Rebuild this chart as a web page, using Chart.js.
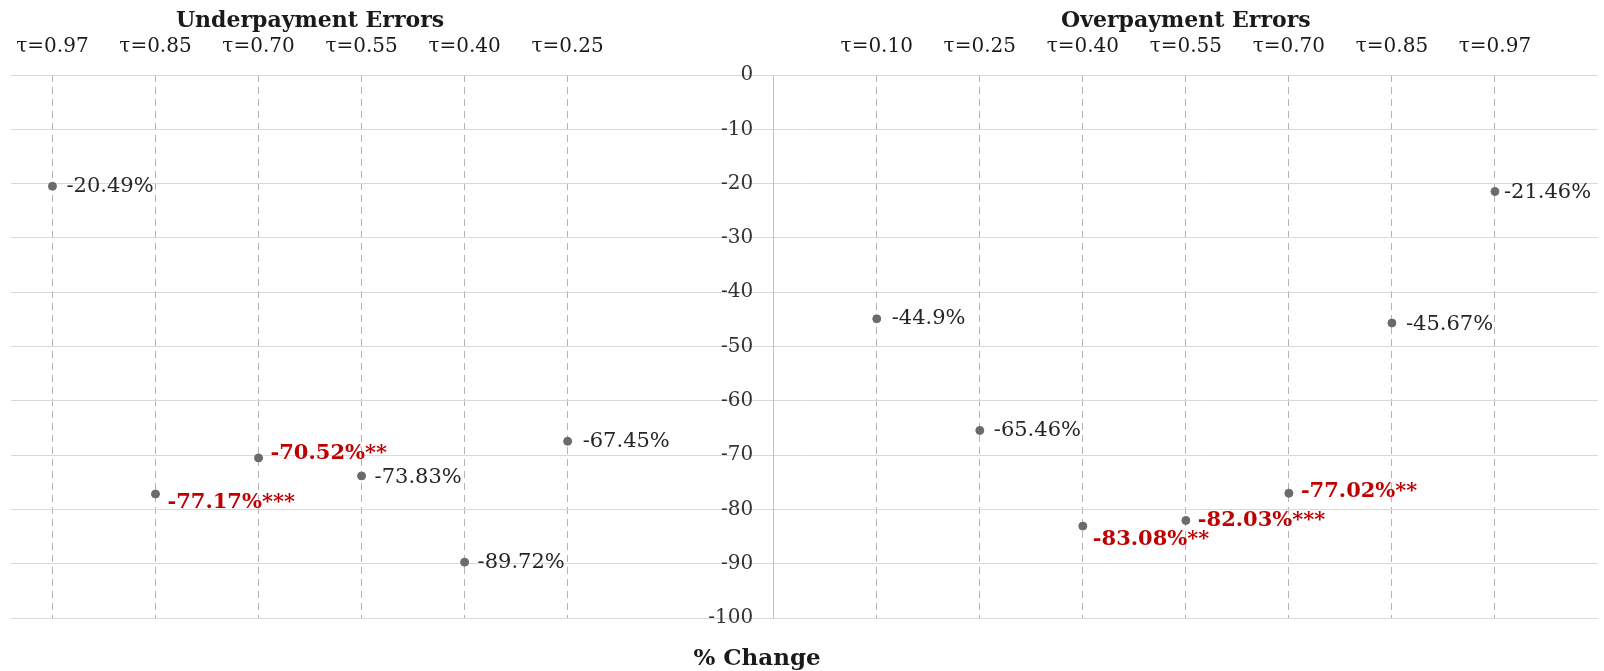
<!DOCTYPE html>
<html lang="en">
<head>
<meta charset="UTF-8">
<title>% Change by quantile</title>
<script src="https://cdn.jsdelivr.net/npm/chart.js@4"></script>
<style>
  body { margin: 0; background: #fff; }
  .wrap { width: 1604px; height: 671px; position: relative; }
</style>
</head>
<body>
<div class="wrap">
  <canvas id="grafico"></canvas>
</div>

<script>
  // quantiles for each side, left block then right block
  const underTau = ['τ=0.97', 'τ=0.85', 'τ=0.70', 'τ=0.55', 'τ=0.40', 'τ=0.25'];
  const overTau = ['τ=0.10', 'τ=0.25', 'τ=0.40', 'τ=0.55', 'τ=0.70', 'τ=0.85', 'τ=0.97'];

  // % change per quantile
  const underChange = [-20.49, -77.17, -70.52, -73.83, -89.72, -67.45];
  const overChange = [-44.9, -65.46, -83.08, -82.03, -77.02, -45.67, -21.46];

  // significance stars
  const underStars = ['', '***', '**', '', '', ''];
  const overStars = ['', '', '**', '***', '**', '', ''];

  // y axis
  const yMin = -100;
  const yMax = 0;
  const yStep = 10;

  // slot 6 is empty, slot 7 holds the y axis
  const axisSlot = underTau.length + 1;
  const overStart = underTau.length + 2;
  const topLabels = [...underTau, '', '', ...overTau];

  const serif = '"DejaVu Serif", serif';
  Chart.defaults.font.family = serif;
  Chart.defaults.color = '#262626';

  // small label nudges so the texts do not overlap
  const labelNudge = [
    [[14, 0], [12, 9], [12, -4], [13, 2], [13, 0], [15, 0]],
    [[15, 0], [14, 0], [10, 13], [12, 0], [12, -2], [14, 2], [9, 1]]
  ];

  const rotulos = {
    id: 'rotulos',
    afterDatasetsDraw(chart) {
      const { ctx, scales: { x } } = chart;
      ctx.save();
      ctx.textBaseline = 'middle';
      ctx.textAlign = 'left';
      chart.data.datasets.forEach((ds, di) => {
        const meta = chart.getDatasetMeta(di);
        meta.data.forEach((pt, i) => {
          const stars = ds.stars[i];
          const sig = stars !== '';
          const [dx, dy] = labelNudge[di][i];
          ctx.font = (sig ? 'bold ' : '') + '21px ' + serif;
          ctx.fillStyle = sig ? '#c00000' : '#262626';
          ctx.fillText(ds.data[i].y + '%' + stars, pt.x + dx, pt.y + dy);
        });
      });

      // block titles above the quantile labels
      ctx.font = 'bold 22px ' + serif;
      ctx.fillStyle = '#1a1a1a';
      ctx.textAlign = 'center';
      ctx.fillText('Underpayment Errors', x.getPixelForValue((underTau.length - 1) / 2), 21);
      ctx.fillText('Overpayment Errors', x.getPixelForValue(overStart + (overTau.length - 1) / 2), 21);

      ctx.font = 'bold 23px ' + serif;
      ctx.fillText('% Change', 757, 659);
      ctx.restore();
    }
  };

  const ctx = document.getElementById('grafico');

  new Chart(ctx, {
    type: 'scatter',
    data: {
      datasets: [
        {
          label: 'Underpayment Errors',
          data: underChange.map((v, i) => ({ x: i, y: v })),
          stars: underStars
        },
        {
          label: 'Overpayment Errors',
          data: overChange.map((v, i) => ({ x: overStart + i, y: v })),
          stars: overStars
        }
      ]
    },
    options: {
      responsive: true,
      maintainAspectRatio: false,
      animation: false,
      layout: {
        padding: { top: 19, bottom: 53, left: 11, right: 6 }
      },
      elements: {
        point: {
          radius: 4,
          backgroundColor: '#6b6b6b',
          borderColor: '#6b6b6b',
          borderWidth: 1
        }
      },
      plugins: {
        legend: { display: false },
        tooltip: { enabled: false }
      },
      scales: {
        x: {
          type: 'linear',
          position: 'top',
          min: -0.4,
          max: 15,
          afterBuildTicks: (axis) => {
            axis.ticks = topLabels.map((_, i) => ({ value: i }));
          },
          ticks: {
            autoSkip: false,
            maxRotation: 0,
            padding: 16,
            color: '#1a1a1a',
            font: { size: 20 },
            callback: (v) => topLabels[v] || ''
          },
          grid: {
            drawTicks: false,
            lineWidth: 1,
            borderDash: [7, 5],
            color: (c) => (c.tick && topLabels[c.tick.value]) ? '#b3b3b3' : 'rgba(0,0,0,0)'
          },
          border: { display: false, dash: [7, 5] }
        },
        // axis line and horizontal grid
        y: {
          type: 'linear',
          position: { x: axisSlot },
          min: yMin,
          max: yMax,
          ticks: { stepSize: yStep, display: false },
          grid: {
            drawTicks: false,
            color: '#d9d9d9',
            lineWidth: 1
          },
          border: { color: '#b8c4d6', width: 1 }
        },
        // tick labels sit a little left of the axis line
        yLabels: {
          type: 'linear',
          axis: 'y',
          position: { x: axisSlot - 0.2 },
          min: yMin,
          max: yMax,
          ticks: {
            stepSize: yStep,
            color: '#333',
            font: { size: 20 }
          },
          grid: { display: false, drawTicks: false },
          border: { display: false }
        }
      }
    },
    plugins: [rotulos]
  });
</script>
</body>
</html>
